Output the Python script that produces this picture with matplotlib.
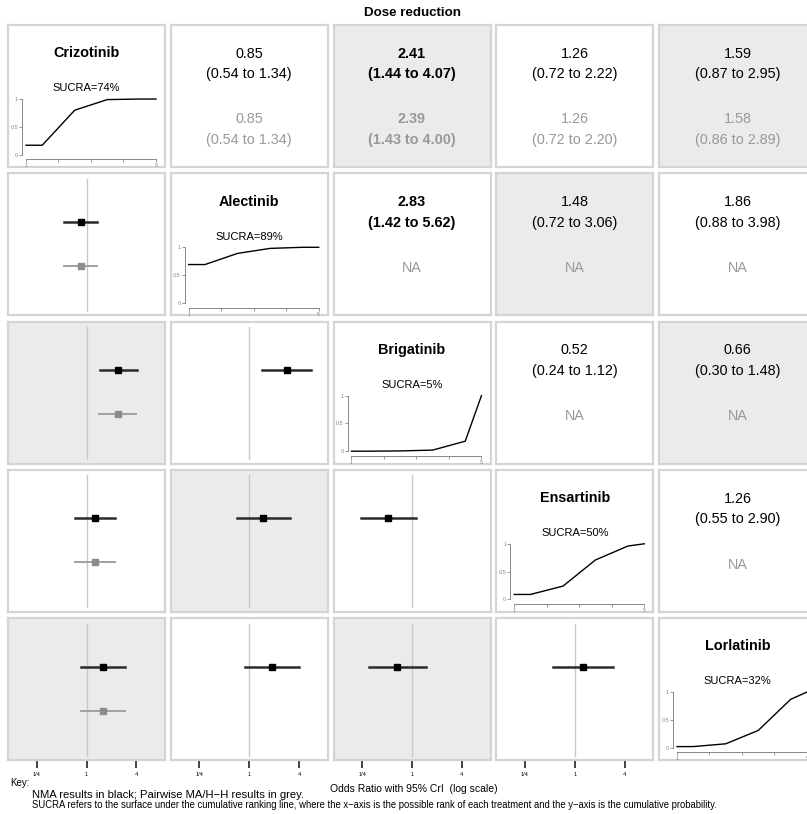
import numpy as np
import matplotlib
matplotlib.use("Agg")
import matplotlib.pyplot as plt
from matplotlib.ticker import NullLocator

plt.rcParams['font.family'] = ['Liberation Sans', 'DejaVu Sans']

treatments = ["Crizotinib", "Alectinib", "Brigatinib", "Ensartinib", "Lorlatinib"]

# cumulative probability of being ranked 1..5
cum_rank = [
    [0.17, 0.80, 0.99, 1.00, 1.00],
    [0.69, 0.89, 0.98, 1.00, 1.00],
    [0.00, 0.005, 0.02, 0.18, 1.00],
    [0.09, 0.24, 0.71, 0.96, 1.00],
    [0.02, 0.07, 0.31, 0.87, 1.00],
]

# pairwise comparisons (row treatment vs column treatment), upper triangle
pair_row = [0, 0, 0, 0, 1, 1, 1, 2, 2, 3]
pair_col = [1, 2, 3, 4, 2, 3, 4, 3, 4, 4]
nma_or = [0.85, 2.41, 1.26, 1.59, 2.83, 1.48, 1.86, 0.52, 0.66, 1.26]
nma_lo = [0.54, 1.44, 0.72, 0.87, 1.42, 0.72, 0.88, 0.24, 0.30, 0.55]
nma_hi = [1.34, 4.07, 2.22, 2.95, 5.62, 3.06, 3.98, 1.12, 1.48, 2.90]
pw_or = [0.85, 2.39, 1.26, 1.58, None, None, None, None, None, None]
pw_lo = [0.54, 1.43, 0.72, 0.86, None, None, None, None, None, None]
pw_hi = [1.34, 4.00, 2.20, 2.89, None, None, None, None, None, None]

or_ticks = [0.25, 1, 4]
or_tick_labels = ["1/4", "1", "4"]

W, H = 807, 814
fig = plt.figure(figsize=(W / 100, H / 100), dpi=100)

PX0, PY0 = 8, 25          # top-left of first panel
PW, PH = 157, 142         # panel size
DX, DY = 162.75, 148.25   # panel pitch
SHADE = "#ebebeb"
BORDER = "#d4d4d4"
GREY_TXT = "#999999"
n = len(treatments)


def panel(r, c):
    x = PX0 + DX * c
    y = PY0 + DY * r
    ax = fig.add_axes([x / W, 1 - (y + PH) / H, PW / W, PH / H])
    shaded = (r + c) % 2 == 0 and r != c
    ax.set_facecolor(SHADE if shaded else "white")
    for s in ax.spines.values():
        s.set_color(BORDER)
        s.set_linewidth(1.6)
    ax.set_xticks([])
    ax.set_yticks([])
    return ax


def is_sig(lo, hi):
    return lo > 1 or hi < 1


lookup = {}
for k in range(len(pair_row)):
    lookup[(pair_row[k], pair_col[k])] = k

for r in range(n):
    for c in range(n):
        ax = panel(r, c)
        if r == c:
            # diagonal: name, SUCRA and cumulative ranking curve
            cr = cum_rank[r]
            sucra = round(np.mean(cr[:-1]) * 100)
            ax.text(0.5, 0.8, treatments[r], transform=ax.transAxes, ha="center",
                    va="center", fontsize=10.4, fontweight="bold")
            ax.text(0.5, 0.554, "SUCRA=%d%%" % sucra, transform=ax.transAxes,
                    ha="center", va="center", fontsize=8)
            ins = ax.inset_axes([0.1146, 0.0866, 0.828, 0.392])
            ins.set_facecolor("none")
            xs = [1, 1.5, 2.5, 3.5, 4.5, 5]
            ys = [cr[0], cr[0], cr[1], cr[2], cr[3], cr[4]]
            ins.plot(xs, ys, color="black", lw=1.0, clip_on=False)
            ins.set_xlim(1, 5)
            ins.set_ylim(0, 1)
            ins.spines["top"].set_visible(False)
            ins.spines["right"].set_visible(False)
            ins.spines["left"].set_position(("outward", 2.7))
            ins.spines["bottom"].set_position(("outward", 3.3))
            ins.spines["left"].set_bounds(0, 1)
            ins.spines["bottom"].set_bounds(1, 5)
            for s in ("left", "bottom"):
                ins.spines[s].set_color("#888888")
                ins.spines[s].set_linewidth(0.7)
            ins.set_xticks([1, 2, 3, 4, 5])
            ins.set_xticklabels(["1", "", "", "", "5"])
            ins.set_yticks([0, 0.5, 1])
            ins.set_yticklabels(["0", "0.5", "1"])
            ins.tick_params(length=2.2, width=0.6, color="#888888", labelsize=4,
                            labelcolor="#888888", pad=0.8)
        elif r < c:
            # upper triangle: estimates as text
            k = lookup[(r, c)]
            w = "bold" if is_sig(nma_lo[k], nma_hi[k]) else "normal"
            ax.text(0.5, 0.796, "%.2f" % nma_or[k], transform=ax.transAxes,
                    ha="center", va="center", fontsize=10.4, fontweight=w)
            ax.text(0.5, 0.652, "(%.2f to %.2f)" % (nma_lo[k], nma_hi[k]),
                    transform=ax.transAxes, ha="center", va="center",
                    fontsize=10.4, fontweight=w)
            if pw_or[k] is None:
                ax.text(0.5, 0.331, "NA", transform=ax.transAxes, ha="center",
                        va="center", fontsize=10.4, color=GREY_TXT)
            else:
                w = "bold" if is_sig(pw_lo[k], pw_hi[k]) else "normal"
                ax.text(0.5, 0.338, "%.2f" % pw_or[k], transform=ax.transAxes,
                        ha="center", va="center", fontsize=10.4, fontweight=w,
                        color=GREY_TXT)
                ax.text(0.5, 0.19, "(%.2f to %.2f)" % (pw_lo[k], pw_hi[k]),
                        transform=ax.transAxes, ha="center", va="center",
                        fontsize=10.4, fontweight=w, color=GREY_TXT)
        else:
            # lower triangle: forest plot of the same comparison
            k = lookup[(c, r)]
            ax.set_xscale("log")
            ax.set_xlim(np.exp(-2.18), np.exp(2.18))
            ax.set_ylim(0, 1)
            ax.xaxis.set_minor_locator(NullLocator())
            ax.axvline(1, ymin=0.03, ymax=0.96, color="#c8c8c8", lw=1.0)
            ax.plot([nma_lo[k], nma_hi[k]], [0.657, 0.657], color="#2a2a2a", lw=1.8)
            ax.plot([nma_or[k]], [0.657], "s", color="black", ms=4.5)
            if pw_or[k] is not None:
                ax.plot([pw_lo[k], pw_hi[k]], [0.347, 0.347], color="#a0a0a0", lw=1.4)
                ax.plot([pw_or[k]], [0.347], "s", color="#8c8c8c", ms=4.5)
            if r == n - 1:
                ax.set_xticks(or_ticks)
                ax.set_xticklabels(or_tick_labels)
                ax.tick_params(axis="x", length=6, width=1.2, color="#222222",
                               labelsize=4, pad=2.5)
            else:
                ax.set_xticks([])

fig.text(412 / W, 1 - 13.3 / H, "Dose reduction", ha="center", va="center",
         fontsize=9.6, fontweight="bold")
fig.text(413.5 / W, 1 - 788.5 / H, "Odds Ratio with 95% CrI  (log scale)",
         ha="center", va="center", fontsize=7.5)
fig.text(10 / W, 1 - 782.5 / H, "Key:", ha="left", va="center", fontsize=7)
fig.text(32 / W, 1 - 794.5 / H,
         "NMA results in black; Pairwise MA/H\u2212H results in grey.",
         ha="left", va="center", fontsize=8.1)
fig.text(32 / W, 1 - 805.5 / H,
         "SUCRA refers to the surface under the cumulative ranking line, where the "
         "x\u2212axis is the possible rank of each treatment and the y\u2212axis is the "
         "cumulative probability.",
         ha="left", va="center", fontsize=6.85)

fig.savefig("out.png", dpi=100)
